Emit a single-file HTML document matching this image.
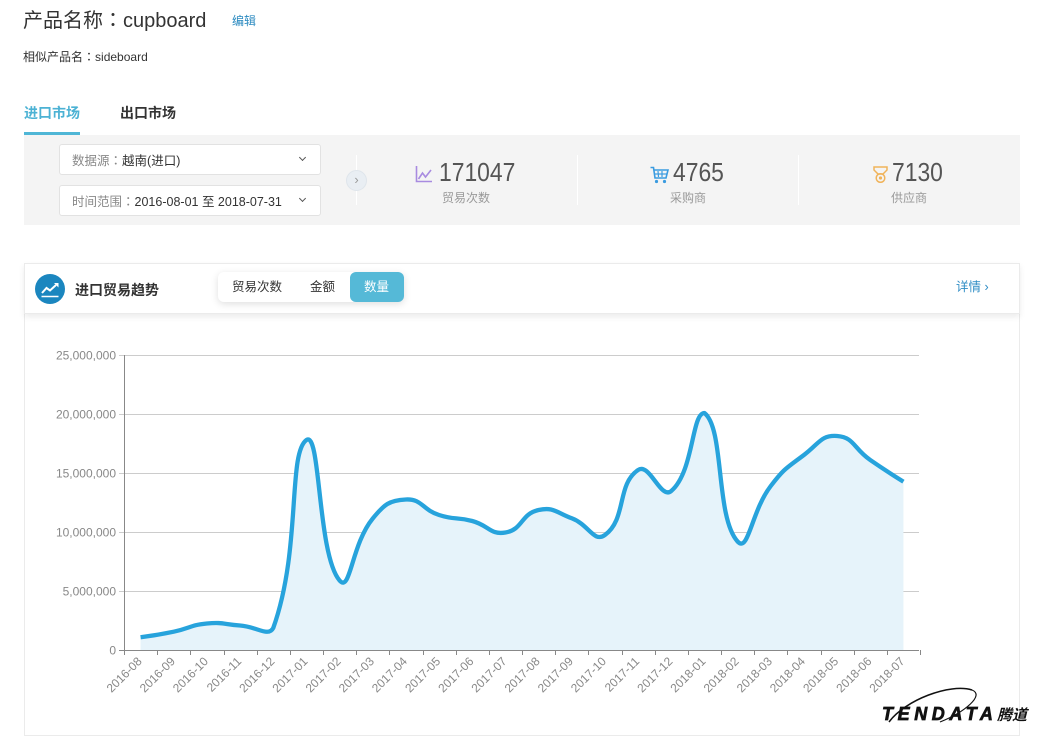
<!DOCTYPE html>
<html><head><meta charset="utf-8">
<style>
*{margin:0;padding:0;box-sizing:border-box}
body{width:1038px;height:744px;background:#fff;position:relative;overflow:hidden;font-family:"Liberation Sans","Noto Sans CJK SC",sans-serif;color:#333}
.a{position:absolute;white-space:nowrap}
.c{font-family:"Noto Sans CJK TC","Noto Sans CJK JP",sans-serif}
.sel{position:absolute;left:59px;width:262px;height:31px;background:#fff;border:1px solid #e2e2e2;border-radius:3px;font-size:12.5px;line-height:29px;padding-left:12px;color:#333}
.sel .l{color:#888}
.chev{position:absolute;right:15px;top:10px;width:5px;height:5px;border-right:1px solid #555;border-bottom:1px solid #555;transform:rotate(45deg)}
.num{position:absolute;font-size:26px;color:#555;line-height:30px;transform:scaleX(0.88);transform-origin:0 0}
.lab{position:absolute;font-size:12px;color:#999;line-height:14px}
.vd{position:absolute;top:155px;width:1px;height:50px;background:#fff}
</style></head><body>

<div class="a" style="left:23px;top:7px;font-size:20px;line-height:24px;color:#333">产品名称<span class="c">：</span>cupboard</div>
<div class="a" style="left:232px;top:13px;font-size:12px;line-height:16px;color:#2b8ac0">编辑</div>
<div class="a" style="left:23px;top:49px;font-size:12px;line-height:16px;color:#333">相似产品名<span class="c">：</span>sideboard</div>

<div class="a" style="left:24px;top:104px;font-size:14px;line-height:18px;font-weight:bold;color:#4cb2d4">进口市场</div>
<div class="a" style="left:24px;top:132px;width:56px;height:3px;background:#4fb6d6"></div>
<div class="a" style="left:120px;top:104px;font-size:14px;line-height:18px;font-weight:bold;color:#333">出口市场</div>

<div class="a" style="left:24px;top:135px;width:996px;height:90px;background:#f4f4f4"></div>
<div class="sel" style="top:144px"><span class="l">数据源<span class="c">：</span></span>越南(进口)<div class="chev"></div></div>
<div class="sel" style="top:185px"><span class="l">时间范围<span class="c">：</span></span>2016-08-01 至 2018-07-31<div class="chev"></div></div>

<div class="vd" style="left:356px"></div>
<div class="a" style="left:346px;top:170px;width:21px;height:21px;border-radius:50%;background:#e9eef3;border:1px solid #dfe5eb;color:#999;font-size:13px;line-height:18px;text-align:center">›</div>
<div class="vd" style="left:577px"></div>
<div class="vd" style="left:798px"></div>

<svg class="a" style="left:415px;top:166px" width="18" height="17" viewBox="0 0 18 17">
<polyline points="1.5,0 1.5,15.5 17,15.5" fill="none" stroke="#a88be0" stroke-width="1.6"/>
<polyline points="3.5,13 7.5,7 10.5,11 16,4" fill="none" stroke="#a88be0" stroke-width="1.6"/>
</svg>
<div class="num" style="left:439px;top:157px">171047</div>
<div class="lab" style="left:442px;top:191px">贸易次数</div>

<svg class="a" style="left:650px;top:166px" width="19" height="18" viewBox="0 0 19 18">
<path d="M0.5,1.5 L3.5,1.5 L5,12 L16,12 L18,4 L4,4" fill="none" stroke="#3a9be0" stroke-width="1.6"/>
<line x1="8" y1="5" x2="8.5" y2="11" stroke="#3a9be0" stroke-width="1.2"/>
<line x1="12" y1="5" x2="12" y2="11" stroke="#3a9be0" stroke-width="1.2"/>
<line x1="5" y1="8" x2="17" y2="8" stroke="#3a9be0" stroke-width="1.2"/>
<circle cx="6.5" cy="15.5" r="1.6" fill="#3a9be0"/><circle cx="14.5" cy="15.5" r="1.6" fill="#3a9be0"/>
</svg>
<div class="num" style="left:673px;top:157px">4765</div>
<div class="lab" style="left:670px;top:191px">采购商</div>

<svg class="a" style="left:873px;top:166px" width="15" height="17" viewBox="0 0 15 17">
<path d="M1,1 L14,1 L14,4 L10,8 L5,8 L1,4 Z" fill="none" stroke="#f0b35a" stroke-width="1.5"/>
<circle cx="7.5" cy="12" r="4.3" fill="none" stroke="#f0b35a" stroke-width="1.5"/>
<circle cx="7.5" cy="12" r="1.6" fill="#f0b35a"/>
</svg>
<div class="num" style="left:892px;top:157px">7130</div>
<div class="lab" style="left:891px;top:191px">供应商</div>

<!-- chart card -->
<div class="a" style="left:24px;top:263px;width:996px;height:473px;border:1px solid #ebebeb;background:#fff"></div>
<div class="a" style="left:24px;top:263px;width:996px;height:51px;background:#fff;border:1px solid #ebebeb;box-shadow:0 3px 6px rgba(0,0,0,0.08)"></div>
<svg class="a" style="left:35px;top:274px" width="30" height="31" viewBox="0 0 30 31">
<circle cx="15" cy="15" r="15" fill="#1b86bf"/>
<polyline points="7,19 11.5,14 15,16.5 21,11" fill="none" stroke="#fff" stroke-width="2"/>
<polygon points="19,9 23.5,9 23.5,13.5" fill="#fff"/>
<line x1="6.5" y1="22.5" x2="23.5" y2="22.5" stroke="#fff" stroke-width="1.6"/>
</svg>
<div class="a" style="left:75px;top:281px;font-size:14px;line-height:18px;font-weight:bold;color:#333">进口贸易趋势</div>
<div class="a" style="left:218px;top:272px;width:186px;height:30px;background:#fff;border-radius:6px;box-shadow:0 2px 8px rgba(0,0,0,0.13)"></div>
<div class="a" style="left:350px;top:272px;width:54px;height:30px;background:#55b9d7;border-radius:6px"></div>
<div class="a" style="left:232px;top:280px;font-size:12.5px;line-height:15px;color:#333">贸易次数</div>
<div class="a" style="left:310px;top:280px;font-size:12.5px;line-height:15px;color:#333">金额</div>
<div class="a" style="left:364px;top:280px;font-size:12.5px;line-height:15px;color:#fff">数量</div>
<div class="a" style="left:956px;top:280px;font-size:12.5px;line-height:15px;color:#2f8dc5">详情 ›</div>

<svg class="a" style="left:0;top:0" width="1038" height="744" viewBox="0 0 1038 744" font-family="Liberation Sans, sans-serif">
<g stroke="#cccccc" stroke-width="1">
<line x1="119" y1="355.5" x2="919" y2="355.5"/>
<line x1="119" y1="414.5" x2="919" y2="414.5"/>
<line x1="119" y1="473.5" x2="919" y2="473.5"/>
<line x1="119" y1="532.5" x2="919" y2="532.5"/>
<line x1="119" y1="591.5" x2="919" y2="591.5"/>
</g>
<path id="area" fill="#e6f3fa" d=""/>
<path id="line" fill="none" stroke="#27a3dc" stroke-width="4.3" stroke-linejoin="round" d=""/>
<line x1="124.5" y1="355" x2="124.5" y2="650" stroke="#888" stroke-width="1"/>
<line x1="119" y1="650.5" x2="919" y2="650.5" stroke="#888" stroke-width="1"/>
<g id="xt" stroke="#888" stroke-width="1"></g>
<g fill="#888" font-size="12" text-anchor="end">
<text x="116" y="359.5">25,000,000</text>
<text x="116" y="418.5">20,000,000</text>
<text x="116" y="477.5">15,000,000</text>
<text x="116" y="536.5">10,000,000</text>
<text x="116" y="595.5">5,000,000</text>
<text x="116" y="654.5">0</text>
</g>
<g id="xl" fill="#888" font-size="12" text-anchor="end">
<text>2016-08</text><text>2016-09</text><text>2016-10</text><text>2016-11</text><text>2016-12</text><text>2017-01</text><text>2017-02</text><text>2017-03</text><text>2017-04</text><text>2017-05</text><text>2017-06</text><text>2017-07</text><text>2017-08</text><text>2017-09</text><text>2017-10</text><text>2017-11</text><text>2017-12</text><text>2018-01</text><text>2018-02</text><text>2018-03</text><text>2018-04</text><text>2018-05</text><text>2018-06</text><text>2018-07</text>
</g>
<!-- logo -->
<path d="M972,690 C950,683 905,700 889,722" fill="none" stroke="#111" stroke-width="1.5"/>
<path d="M972,690 C985,695 965,712 940,722" fill="none" stroke="#111" stroke-width="1.2"/>
<text x="882" y="720" font-size="18" font-weight="bold" font-style="italic" letter-spacing="4.6" fill="#111" stroke="#111" stroke-width="0.7">TENDATA</text>
<text x="997" y="720" font-size="15" font-style="italic" font-weight="bold" fill="#111" font-family="Noto Sans CJK SC, sans-serif">腾道</text>
</svg>

<script>
(function(){
var ys=[637.3,631.7,623.5,625.5,628,440,580.5,518.5,499.5,515,521,532.5,510,518.3,535,470,491,413,541.5,486,455,436,460,481.7];
var step=796/24, p=[];
for(var i=0;i<ys.length;i++)p.push([124+step*(i+0.5),ys[i]]);
var s=0.5,minx=1e9,maxx=-1e9,miny=1e9,maxy=-1e9;
p.forEach(function(q){minx=Math.min(minx,q[0]);maxx=Math.max(maxx,q[0]);miny=Math.min(miny,q[1]);maxy=Math.max(maxy,q[1]);});
function cl(c){return [Math.min(maxx,Math.max(minx,c[0])),Math.min(maxy,Math.max(miny,c[1]))];}
var cps=[];
for(i=0;i<p.length;i++){
 if(i==0||i==p.length-1){cps.push([p[i],p[i]]);continue;}
 var pr=p[i-1],nx=p[i+1],c=p[i];
 var vx=(nx[0]-pr[0])*s,vy=(nx[1]-pr[1])*s;
 var d0=Math.hypot(c[0]-pr[0],c[1]-pr[1]),d1=Math.hypot(c[0]-nx[0],c[1]-nx[1]);
 var sm=d0+d1;d0/=sm;d1/=sm;
 cps.push([cl([c[0]-vx*d0,c[1]-vy*d0]),cl([c[0]+vx*d1,c[1]+vy*d1])]);
}
function f(q){return q[0].toFixed(2)+','+q[1].toFixed(2);}
var d='M'+f(p[0]);
for(i=0;i<p.length-1;i++){d+=' C'+f(cps[i][1])+' '+f(cps[i+1][0])+' '+f(p[i+1]);}
document.getElementById('line').setAttribute('d',d);
document.getElementById('area').setAttribute('d',d+' L'+p[p.length-1][0].toFixed(2)+',650 L'+p[0][0].toFixed(2)+',650 Z');
var g=document.getElementById('xt'),ns='http://www.w3.org/2000/svg';
for(i=0;i<=24;i++){var x=Math.round(124+step*i)+0.5;var l=document.createElementNS(ns,'line');l.setAttribute('x1',x);l.setAttribute('x2',x);l.setAttribute('y1',650);l.setAttribute('y2',655);g.appendChild(l);}
var ts=document.getElementById('xl').getElementsByTagName('text');
for(i=0;i<ts.length;i++){var x=124+step*(i+0.5)+2,y=662;ts[i].setAttribute('x',x.toFixed(1));ts[i].setAttribute('y',y);ts[i].setAttribute('transform','rotate(-45 '+x.toFixed(1)+' '+y+')');}
})();
</script>
</body></html>
